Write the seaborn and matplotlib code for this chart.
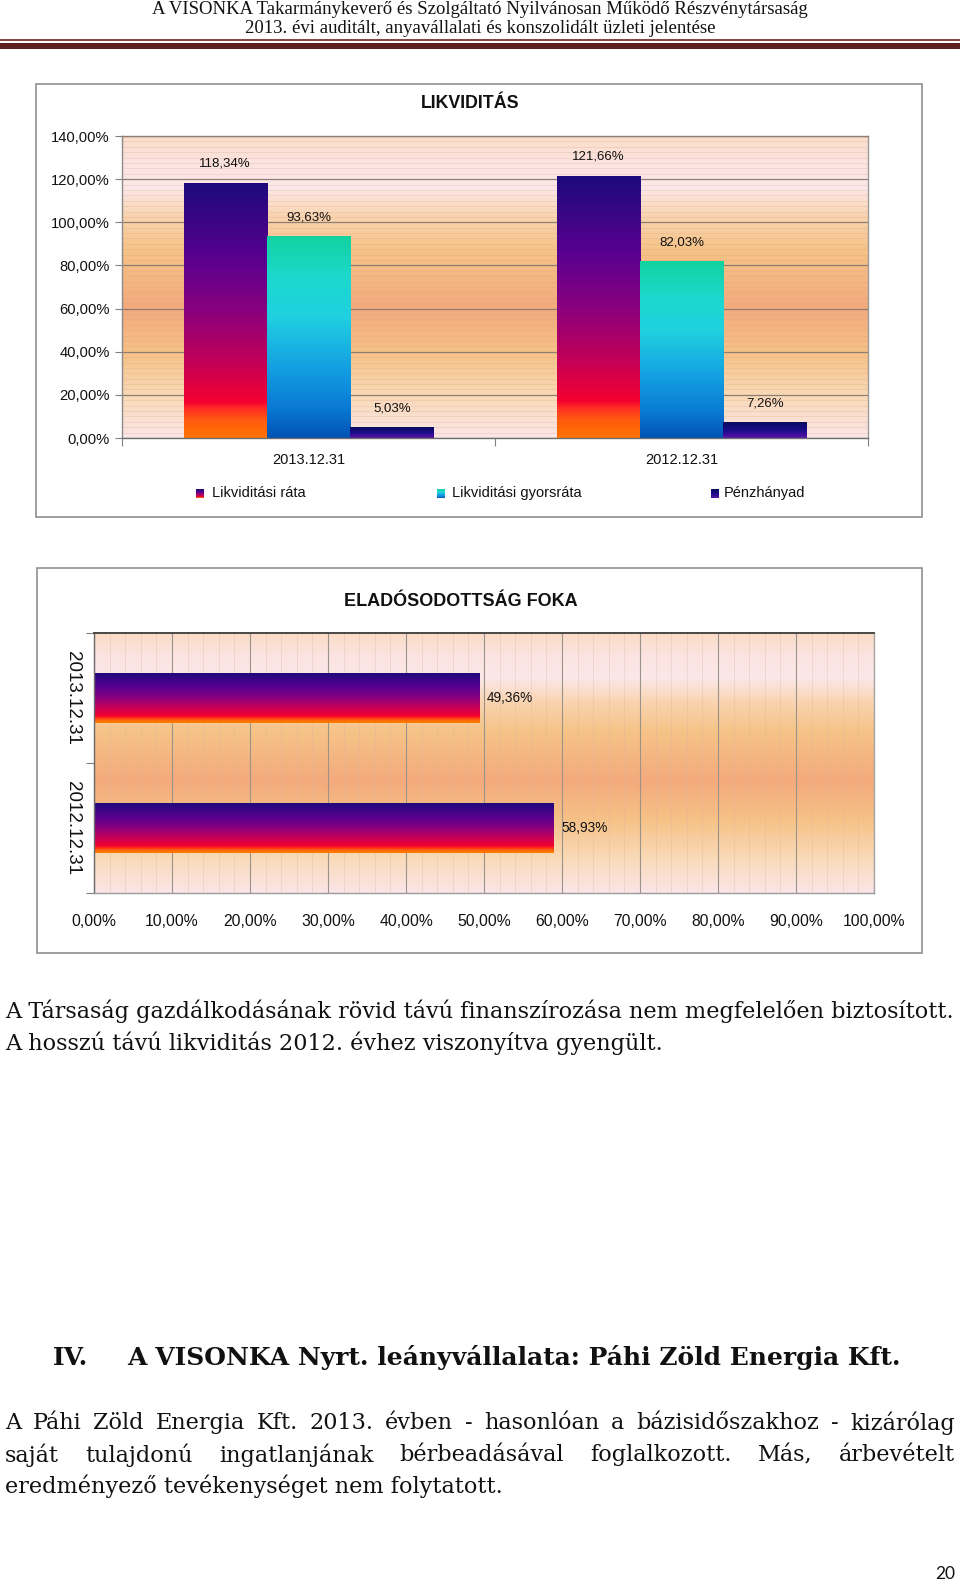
import numpy as np
import pandas as pd
import matplotlib
matplotlib.use("Agg")
import matplotlib.pyplot as plt
import seaborn as sns
from matplotlib.colors import LinearSegmentedColormap, to_hex
from matplotlib.patches import Rectangle
from matplotlib.ticker import MultipleLocator, FixedLocator, FuncFormatter
from matplotlib import font_manager as fm

# ---------------- data ----------------
dates = ["2013.12.31", "2012.12.31"]
series = ["Likviditási ráta", "Likviditási gyorsráta", "Pénzhányad"]
likviditasi_rata = [118.34, 121.66]
likviditasi_gyorsrata = [93.63, 82.03]
penzhanyad = [5.03, 7.26]

debt_dates = ["2013.12.31", "2012.12.31"]
debt_values = [49.36, 58.93]

title_top = "LIKVIDITÁS"
title_bottom = "ELADÓSODOTTSÁG FOKA"
header1 = "A VISONKA Takarmánykeverő és Szolgáltató Nyilvánosan Működő Részvénytársaság"
header2 = "2013. évi auditált, anyavállalati és konszolidált üzleti jelentése"
para1 = ["A Társaság gazdálkodásának rövid távú finanszírozása nem megfelelően biztosított.",
         "A hosszú távú likviditás 2012. évhez viszonyítva gyengült."]
heading_num = "IV."
heading_text = "A VISONKA Nyrt. leányvállalata: Páhi Zöld Energia Kft."
para2 = ["A Páhi Zöld Energia Kft. 2013. évben - hasonlóan a bázisidőszakhoz - kizárólag",
         "saját tulajdonú ingatlanjának bérbeadásával foglalkozott. Más, árbevételt",
         "eredményező tevékenységet nem folytatott."]
page_number = "20"

# ---------------- setup ----------------
W, H = 960, 1584
sns.set_theme(style="white")
plt.rcParams["font.family"] = ["Liberation Sans", "DejaVu Sans"]

names = {f.name for f in fm.fontManager.ttflist}
NARROW_OK = "Liberation Sans Narrow" in names
NARROW = ["Liberation Sans Narrow", "Liberation Sans", "DejaVu Sans"] if NARROW_OK else ["Liberation Sans", "DejaVu Sans"]
SANS = ["Liberation Sans", "DejaVu Sans"]
SERIF = ["DejaVu Serif", "Liberation Serif"]
HEADSERIF = ["Liberation Serif", "DejaVu Serif"]

fig = plt.figure(figsize=(W / 100, H / 100), dpi=100)
fig.patch.set_facecolor("white")
renderer = fig.canvas.get_renderer()


def fx(px):
    return px / W


def fy(py):
    return 1 - py / H


def fit(t, target):
    w = t.get_window_extent(renderer).width
    t.set_fontsize(t.get_fontsize() * target / w)
    return t.get_fontsize()


def pct(v, pos=None):
    return f"{v:.2f}".replace(".", ",") + "%"


def cmap_from(stops, name):
    return LinearSegmentedColormap.from_list(name, stops, N=512)


bg_cmap = cmap_from([(0.0, "#fadcc6"), (0.08, "#fbe3df"), (0.17, "#fce8ea"), (0.27, "#f9d3ad"),
                     (0.38, "#f6c387"), (0.57, "#f3aa7d"), (0.72, "#f6c287"), (0.86, "#f9d9b6"),
                     (1.0, "#fbe6e8")], "bg")
c_rata = cmap_from([(0.0, "#1c0a7c"), (0.3, "#5a0090"), (0.5, "#88007e"), (0.7, "#c20058"),
                    (0.86, "#f50030"), (0.885, "#ff2c26"), (0.93, "#ff5a10"), (1.0, "#ff7400")], "rata")
c_gyors = cmap_from([(0.0, "#12d2a0"), (0.2, "#1cd8cc"), (0.4, "#20d0e0"), (0.65, "#14a0e2"),
                     (0.85, "#0a7ad4"), (1.0, "#0052b4")], "gyors")
c_penz = cmap_from([(0.0, "#080a5e"), (0.5, "#1a0c88"), (1.0, "#5a12a8")], "penz")
c_hbar = cmap_from([(0.0, "#1c0a7c"), (0.3, "#5a0090"), (0.5, "#88007e"), (0.7, "#c80058"),
                    (0.86, "#f50030"), (0.9, "#ff3020"), (0.95, "#ff6a00"), (1.0, "#ff8000")], "hbar")

grad = np.linspace(0, 1, 512).reshape(-1, 1)


def gradient_fill(ax, patch, cmap, inverted=False):
    x0, y0 = patch.get_x(), patch.get_y()
    w, h = patch.get_width(), patch.get_height()
    ext = (x0, x0 + w, y0 + h, y0) if inverted else (x0, x0 + w, y0, y0 + h)
    im = ax.imshow(grad, cmap=cmap, extent=ext, origin="upper", aspect="auto",
                   interpolation="bilinear", zorder=2.5)
    im.set_clip_path(patch)
    patch.set_facecolor("none")
    patch.set_edgecolor("none")


# ---------------- header ----------------
h1 = fig.text(0.5, fy(10), header1, ha="center", va="center", family=HEADSERIF, fontsize=14, color="#111111")
fs_h = fit(h1, 709) * 0.93
h1.set_fontsize(fs_h)
fig.text(0.5, fy(28.5), header2, ha="center", va="center", family=HEADSERIF, fontsize=fs_h, color="#111111")
fig.add_artist(Rectangle((0, fy(41)), 1, 2 / H, transform=fig.transFigure, color="#8a4545", lw=0))
fig.add_artist(Rectangle((0, fy(48.5)), 1, 6 / H, transform=fig.transFigure, color="#5e2222", lw=0))

# ---------------- chart boxes ----------------
fig.add_artist(Rectangle((fx(36), fy(517)), (922 - 36) / W, (517 - 84) / H, transform=fig.transFigure,
                         fill=False, ec="#8f8f8f", lw=1.2))
fig.add_artist(Rectangle((fx(37), fy(953)), (922 - 37) / W, (953 - 568) / H, transform=fig.transFigure,
                         fill=False, ec="#8f8f8f", lw=1.2))

# ---------------- top chart ----------------
ax1 = fig.add_axes([fx(122), fy(438), (868 - 122) / W, (438 - 136) / H])
df1 = pd.DataFrame({
    "date": dates * 3,
    "series": [s for s in series for _ in dates],
    "value": likviditasi_rata + likviditasi_gyorsrata + penzhanyad,
})
palette = {series[0]: "#c00060", series[1]: "#18a8e0", series[2]: "#201080"}
sns.barplot(data=df1, x="date", y="value", hue="series", order=dates, hue_order=series,
            palette=palette, width=0.67, saturation=1, errorbar=None, legend=False,
            linewidth=0, edgecolor="none", ax=ax1, zorder=2)
cmap_by_color = {to_hex(palette[series[0]]): c_rata, to_hex(palette[series[1]]): c_gyors,
                 to_hex(palette[series[2]]): c_penz}
for p in list(ax1.patches):
    val = p.get_height()
    cm = cmap_by_color[to_hex(p.get_facecolor())]
    gradient_fill(ax1, p, cm)
    ax1.annotate(pct(val), (p.get_x() + p.get_width() / 2, val), xytext=(0, 19 * 0.72),
                 textcoords="offset points", ha="center", va="center", fontsize=9.5,
                 family=SANS, color="#111111", zorder=5)

ax1.imshow(grad, cmap=bg_cmap, extent=(0, 1, 0, 1), transform=ax1.transAxes, origin="upper",
           aspect="auto", zorder=0)
ax1.set_xlim(-0.5, 1.5)
ax1.set_ylim(0, 140)
ax1.set_axisbelow(True)
ax1.yaxis.set_major_locator(MultipleLocator(20))
ax1.yaxis.set_minor_locator(MultipleLocator(2.5))
ax1.yaxis.set_major_formatter(FuncFormatter(pct))
ax1.xaxis.set_minor_locator(FixedLocator([-0.5, 0.5, 1.5]))
ax1.grid(axis="y", which="major", color="#8c7e72", lw=0.9)
ax1.grid(axis="y", which="minor", color="#d49c80", lw=0.5, alpha=0.3)
ax1.grid(axis="x", which="both", visible=False)
ax1.tick_params(axis="y", which="major", left=True, length=5, width=0.8, color="#808080",
                direction="out", pad=4, labelsize=10.6, labelcolor="#111111")
ax1.tick_params(axis="y", which="minor", left=False, length=0)
ax1.tick_params(axis="x", which="major", bottom=True, length=0, pad=11, labelsize=10.5, labelcolor="#111111")
ax1.tick_params(axis="x", which="minor", bottom=True, length=6, width=0.8, color="#808080", direction="out")
ax1.set_xlabel("")
ax1.set_ylabel("")
for side, col in [("left", "#8a8a8a"), ("bottom", "#6e6e6e"), ("right", "#9a9a9a"), ("top", "#8c7e72")]:
    ax1.spines[side].set_visible(True)
    ax1.spines[side].set_color(col)
    ax1.spines[side].set_linewidth(1.0)

t1 = fig.text(fx(470), fy(103), title_top, ha="center", va="center", weight="bold",
              family=NARROW, fontsize=14, color="#111111")
fit(t1, 99)

# legend (manual, gradient swatches)
leg_marker_x = [196, 437, 711]
leg_text_x = [212, 452, 724]
for s, mx, tx in zip(series, leg_marker_x, leg_text_x):
    lax = fig.add_axes([fx(mx), fy(498), 8 / W, 9 / H])
    lax.imshow(grad, cmap=cmap_by_color[to_hex(palette[s])], aspect="auto", origin="upper")
    lax.set_axis_off()
    fig.text(fx(tx), fy(493), s, ha="left", va="center", fontsize=10.5, family=SANS, color="#111111")

# ---------------- bottom chart ----------------
ax2 = fig.add_axes([fx(94), fy(893), 780 / W, 260 / H])
df2 = pd.DataFrame({"date": debt_dates, "value": debt_values})
sns.barplot(data=df2, x="value", y="date", order=debt_dates, orient="h", color="#a00060", width=0.39,
            saturation=1, errorbar=None, linewidth=0, edgecolor="none", ax=ax2, zorder=2)
lab_fs = 11.4 if NARROW_OK else 9.8
for p in list(ax2.patches):
    val = p.get_width()
    gradient_fill(ax2, p, c_hbar, inverted=True)
    ax2.annotate(pct(val), (val, p.get_y() + p.get_height() / 2), xytext=(8 * 0.72, 0),
                 textcoords="offset points", ha="left", va="center", fontsize=lab_fs,
                 family=NARROW, color="#111111", zorder=5)

ax2.imshow(grad, cmap=bg_cmap, extent=(0, 1, 0, 1), transform=ax2.transAxes, origin="upper",
           aspect="auto", zorder=0)
ax2.set_xlim(0, 100)
ax2.set_ylim(1.5, -0.5)
ax2.set_axisbelow(True)
ax2.xaxis.set_major_locator(MultipleLocator(10))
ax2.xaxis.set_minor_locator(MultipleLocator(2))
ax2.xaxis.set_major_formatter(FuncFormatter(pct))
ax2.yaxis.set_minor_locator(FixedLocator([-0.5, 0.5, 1.5]))
ax2.grid(axis="x", which="major", color="#9b928a", lw=0.8)
ax2.grid(axis="x", which="minor", color="#d8b4a0", lw=0.5, alpha=0.45)
ax2.grid(axis="y", which="both", visible=False)
tick_fs = 13 if NARROW_OK else 11.3
ax2.tick_params(axis="x", which="both", bottom=True, length=0, pad=15, labelsize=tick_fs, labelcolor="#111111")
for lbl in ax2.get_xticklabels():
    lbl.set_family(NARROW)
ax2.tick_params(axis="y", which="major", left=True, length=0, pad=9.5)
ax2.tick_params(axis="y", which="minor", left=True, length=6, width=0.8, color="#808080", direction="out")
ax2.set_yticks(range(len(debt_dates)))
ylabels = ax2.set_yticklabels(debt_dates, rotation=270, va="center", ha="right", fontsize=13.5,
                              family=SANS, color="#111111")
ax2.set_xlabel("")
ax2.set_ylabel("")
for side, col, lw in [("left", "#6a6a6a", 1.0), ("bottom", "#9a9a9a", 1.0), ("right", "#a5a5a5", 1.0),
                      ("top", "#3a3a3a", 1.3)]:
    ax2.spines[side].set_visible(True)
    ax2.spines[side].set_color(col)
    ax2.spines[side].set_linewidth(lw)

t2 = fig.text(fx(461), fy(602), title_bottom, ha="center", va="center", weight="bold",
              family=NARROW, fontsize=14, color="#111111")
fit(t2, 234)

# ---------------- body text ----------------
p1 = fig.text(fx(5), fy(1011), para1[0], ha="left", va="center", family=SERIF, fontsize=13, color="#111111")
body_fs = fit(p1, 950)
fig.text(fx(5), fy(1043), para1[1], ha="left", va="center", family=SERIF, fontsize=body_fs, color="#111111")

hn = fig.text(fx(53), fy(1358), heading_num, ha="left", va="center", family=SERIF, weight="bold",
              fontsize=15, color="#111111")
ht = fig.text(fx(127), fy(1358), heading_text, ha="left", va="center", family=SERIF, weight="bold",
              fontsize=15, color="#111111")
hfs = fit(ht, 777)
hn.set_fontsize(hfs)


def justify(line, x0, x1, ypix, fs):
    words = line.split(" ")
    texts = [fig.text(0, fy(ypix), w, ha="left", va="center", family=SERIF, fontsize=fs, color="#111111")
             for w in words]
    widths = [t.get_window_extent(renderer).width for t in texts]
    gap = (x1 - x0 - sum(widths)) / (len(words) - 1)
    x = x0
    for t, w in zip(texts, widths):
        t.set_x(fx(x))
        x += w + gap


justify(para2[0], 5, 955, 1423, body_fs)
justify(para2[1], 5, 955, 1455, body_fs)
fig.text(fx(5), fy(1486), para2[2], ha="left", va="center", family=SERIF, fontsize=body_fs, color="#111111")

fig.text(fx(955), fy(1574), page_number, ha="right", va="center", family=["Lato", "DejaVu Sans"],
         fontsize=12.5, color="#111111")

fig.savefig("out.png", dpi=100, facecolor="white")
